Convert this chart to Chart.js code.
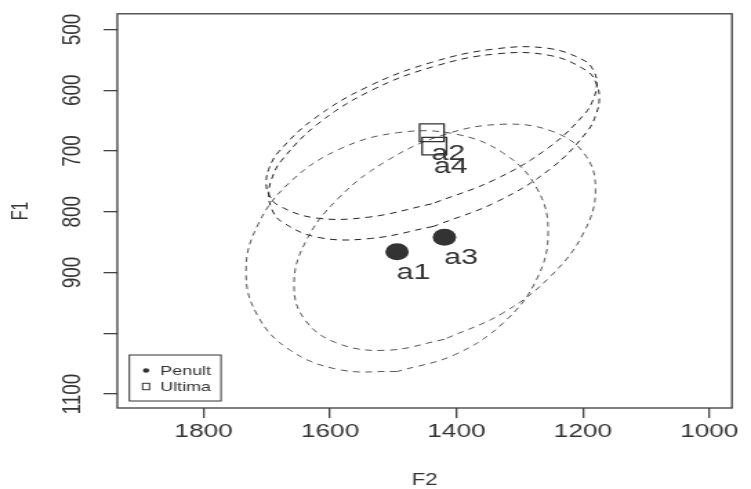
<!DOCTYPE html>
<html><head><meta charset="utf-8">
<script src="https://cdn.jsdelivr.net/npm/chart.js@4/dist/chart.umd.min.js"></script>
<style>html,body{margin:0;padding:0;background:#fff;overflow:hidden}</style>
</head><body>
<canvas id="c" width="544" height="489" style="display:block;width:751px;height:489px"></canvas>
<script>
// ---- data ----
const penultLabels = ['a1', 'a3'];
const penultF2 = [1494, 1419];
const penultF1 = [866, 842];
const ultimaLabels = ['a2', 'a4'];
const ultimaF2 = [1439, 1435];
const ultimaF1 = [670, 692];

// ellipse outlines
const ellA1F2 = [1494,1585,1663,1714,1733,1714,1663,1585,1494,1402,1325,1273,1255,1273,1325,1402,1494];
const ellA1F1 = [1063,1060,1028,972,899,821,751,697,670,672,704,761,833,911,982,1035,1063];
const ellA3F2 = [1419,1510,1587,1639,1657,1639,1587,1510,1419,1327,1250,1198,1180,1198,1250,1327,1419];
const ellA3F1 = [1010,1028,1017,979,921,850,778,716,673,656,667,704,763,833,905,967,1010];
const ellA2F2 = [1439,1540,1624,1681,1696,1701,1696,1681,1624,1540,1439,1339,1255,1198,1183,1178,1183,1198,1255,1339,1439];
const ellA2F1 = [787,809,810,790,773,752,727.5,701,646,594,554,532,531,551,568,589,613.5,640,695,747,787];
const ellA4F2 = [1436,1536,1620,1677,1692,1697,1692,1677,1620,1536,1436,1335,1251,1194,1179,1174,1179,1194,1251,1335,1436];
const ellA4F1 = [824,844,842,816,796,772,745,716,656,601,561,540,543,568,588,612,639,669,729,783,824];

const xTickValues = [1800, 1600, 1400, 1200, 1000];
const xTickLabels = ['1800', '1600', '1400', '1200', '1000'];
const yTickValues = [500, 600, 700, 800, 900, 1000, 1100];
const yTickLabels = ['500', '600', '700', '800', '900', '', '1100'];
const xTitle = 'F2';
const yTitle = 'F1';

// ---- build ----
const toXY = (xs, ys) => xs.map((x, i) => ({x: x, y: ys[i]}));
const FONT = '"Liberation Sans", Arial, sans-serif';
const INK = '#333333';

function ellipse(label, xs, ys, color) {
  return {label: label, data: toXY(xs, ys), showLine: true, pointRadius: 0,
    borderColor: color, borderWidth: 1, borderDash: [5, 4], tension: 0.4, fill: false};
}

const boxPlugin = {
  id: 'boxAndText',
  afterDraw(chart) {
    const ctx = chart.ctx, a = chart.chartArea;
    ctx.save();
    // plot frame
    ctx.strokeStyle = '#3c3c3c'; ctx.lineWidth = 1.3;
    ctx.strokeRect(a.left, a.top, a.right - a.left, a.bottom - a.top);
    // y tick labels (rotated, like R)
    const ys = chart.scales.y;
    ctx.fillStyle = INK; ctx.font = '19px ' + FONT;
    ctx.textAlign = 'center'; ctx.textBaseline = 'middle';
    ys.ticks.forEach(t => {
      const idx = yTickValues.indexOf(t.value);
      const lab = idx >= 0 ? yTickLabels[idx] : '';
      if (!lab) return;
      const py = ys.getPixelForValue(t.value);
      ctx.save(); ctx.translate(52.5, py); ctx.rotate(-Math.PI / 2);
      ctx.fillText(lab, 0, 0); ctx.restore();
    });
    // point labels
    ctx.font = '22px ' + FONT;
    const lbls = [penultLabels, ultimaLabels];
    [0, 1].forEach(di => {
      const meta = chart.getDatasetMeta(di);
      meta.data.forEach((el, i) => {
        ctx.fillText(lbls[di][i], el.x + 12, el.y + 21);
      });
    });
    // legend
    const lx0 = 93.7, lx1 = 160.1, ly0 = 355, ly1 = 401;
    ctx.strokeStyle = '#333'; ctx.lineWidth = 1;
    ctx.strokeRect(lx0, ly0, lx1 - lx0, ly1 - ly0);
    ctx.font = '13px ' + FONT; ctx.textAlign = 'left';
    const d = chart.data.datasets;
    ctx.beginPath(); ctx.arc(105.8, 370.5, 2.3, 0, Math.PI * 2); ctx.fillStyle = INK; ctx.fill();
    ctx.fillText(d[0].label, 116, 371);
    ctx.lineWidth = 1; ctx.strokeStyle = INK;
    ctx.strokeRect(103.3, 383.3, 5, 6.4);
    ctx.fillText(d[1].label, 116, 387);
    ctx.restore();
  }
};

new Chart(document.getElementById('c'), {
  type: 'scatter',
  data: {
    datasets: [
      {label: 'Penult', data: toXY(penultF2, penultF1), pointStyle: 'circle', pointRadius: 8.5,
        backgroundColor: INK, borderColor: INK, borderWidth: 0},
      {label: 'Ultima', data: toXY(ultimaF2, ultimaF1), pointStyle: 'rect', pointRadius: 12.5,
        backgroundColor: 'rgba(0,0,0,0)', borderColor: INK, borderWidth: 1.3},
      ellipse('a1', ellA1F2, ellA1F1, '#555555'),
      ellipse('a3', ellA3F2, ellA3F1, '#555555'),
      ellipse('a2', ellA2F2, ellA2F1, '#222222'),
      ellipse('a4', ellA4F2, ellA4F1, '#222222')
    ]
  },
  options: {
    responsive: false, animation: false, events: [],
    layout: {padding: {left: 0, top: 13, right: 6.3, bottom: 0}},
    plugins: {legend: {display: false}, tooltip: {enabled: false}},
    scales: {
      x: {type: 'linear', reverse: true, min: 964.1, max: 1936.5,
        afterBuildTicks: s => { s.ticks = xTickValues.map(v => ({value: v})); },
        afterFit: s => { s.height = 81; s.paddingLeft = 0; s.paddingRight = 0; },
        grid: {drawOnChartArea: false, drawTicks: true, tickLength: 10, color: '#444', lineWidth: 1.3},
        border: {display: false},
        ticks: {padding: 2.3, color: INK, font: {family: FONT, size: 19, lineHeight: 1.2},
          maxRotation: 0, minRotation: 0, autoSkip: false,
          callback: v => { const i = xTickValues.indexOf(v); return i >= 0 ? xTickLabels[i] : ''; }},
        title: {display: true, text: xTitle, color: INK, font: {family: FONT, size: 16, lineHeight: 1},
          padding: {top: 0, bottom: 0}}
      },
      y: {type: 'linear', reverse: true, min: 474.2, max: 1123,
        afterBuildTicks: s => { s.ticks = yTickValues.map(v => ({value: v})); },
        afterFit: s => { s.width = 85; s.paddingTop = 0; s.paddingBottom = 0; },
        grid: {drawOnChartArea: false, drawTicks: true, tickLength: 10, color: '#444', lineWidth: 1.3},
        border: {display: false},
        ticks: {display: false},
        title: {display: true, text: yTitle, color: INK, font: {family: FONT, size: 16, lineHeight: 1},
          padding: {top: 7.7, bottom: 0}}
      }
    }
  },
  plugins: [boxPlugin]
});
</script>
</body></html>
